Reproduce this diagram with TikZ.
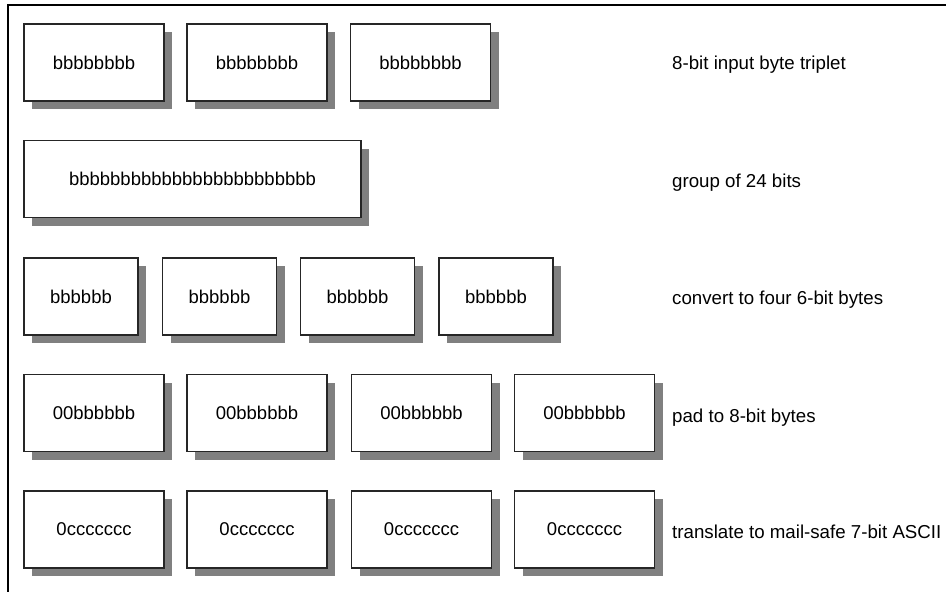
\documentclass[tikz,border=0pt]{standalone}
\usepackage{fontspec}
\setmainfont{Liberation Sans}
\usetikzlibrary{shadows}

\tikzset{
  bytebox/.style={draw=black!85, line width=1.1pt, fill=white, minimum height=77pt,
    inner sep=0pt, font=\fontsize{18.5}{21}\selectfont,
    drop shadow={shadow xshift=8pt, shadow yshift=-8pt, fill=black!50, opacity=1}},
  stepnote/.style={anchor=west, inner sep=0pt, font=\fontsize{18.7}{21}\selectfont}
}

\begin{document}
\begin{tikzpicture}[x=1pt,y=-1pt]
\useasboundingbox (0,0) rectangle (946,592);
\draw[line width=1.4pt] (946,5) -- (8,5) -- (8,592);

% input bytes
\node[bytebox, minimum width=140pt] (in1) at (94,62.5) {bbbbbbbb};
\node[bytebox, minimum width=140pt] (in2) at (257,62.5) {bbbbbbbb};
\node[bytebox, minimum width=140pt] (in3) at (420.5,62.5) {bbbbbbbb};
\node[stepnote] (l1) at (672,65) {8-bit input byte triplet};

\node[bytebox, minimum width=337pt] (grp) at (192.5,179) {bbbbbbbbbbbbbbbbbbbbbbbb};
\node[stepnote] (l2) at (672,183) {group of 24 bits};

\node[bytebox, minimum width=114pt] (six1) at (81,296.5) {bbbbbb};
\node[bytebox, minimum width=114pt] (six2) at (219.5,296.5) {bbbbbb};
\node[bytebox, minimum width=114pt] (six3) at (357.5,296.5) {bbbbbb};
\node[bytebox, minimum width=114pt] (six4) at (496,296.5) {bbbbbb};
\node[stepnote] (l3) at (672,300) {convert to four 6-bit bytes};

\node[bytebox, minimum width=140pt] (pad1) at (94,413) {00bbbbbb};
\node[bytebox, minimum width=140pt] (pad2) at (257,413) {00bbbbbb};
\node[bytebox, minimum width=140pt] (pad3) at (421.5,413) {00bbbbbb};
\node[bytebox, minimum width=140pt] (pad4) at (584.5,413) {00bbbbbb};
\node[stepnote] (l4) at (672,418) {pad to 8-bit bytes};

% ascii output
\node[bytebox, minimum width=140pt] (out1) at (94,529.5) {0ccccccc};
\node[bytebox, minimum width=140pt] (out2) at (257,529.5) {0ccccccc};
\node[bytebox, minimum width=140pt] (out3) at (421.5,529.5) {0ccccccc};
\node[bytebox, minimum width=140pt] (out4) at (584.5,529.5) {0ccccccc};
\node[stepnote] (l5) at (672,532) {translate to mail-safe 7-bit ASCII};
\end{tikzpicture}
\end{document}
